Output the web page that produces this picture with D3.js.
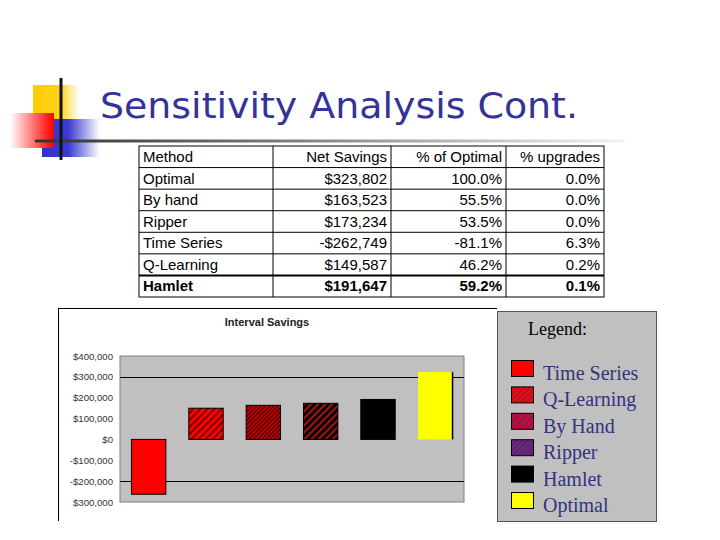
<!DOCTYPE html>
<html>
<head>
<meta charset="utf-8">
<script src="https://cdn.jsdelivr.net/npm/d3@7"></script>
<style>
  body { margin: 0; background: #fff; }
</style>
</head>
<body>
<div id="slide"></div>
<script>
// table data
let methods = ["Optimal", "By hand", "Ripper", "Time Series", "Q-Learning", "Hamlet"];
let netSavings = ["$323,802", "$163,523", "$173,234", "-$262,749", "$149,587", "$191,647"];
let pctOptimal = ["100.0%", "55.5%", "53.5%", "-81.1%", "46.2%", "59.2%"];
let pctUpgrades = ["0.0%", "0.0%", "0.0%", "6.3%", "0.2%", "0.1%"];
let headers = ["Method", "Net Savings", "% of Optimal", "% upgrades"];

// chart data
let categories = ["Time Series", "Q-Learning", "By Hand", "Ripper", "Hamlet", "Optimal"];
let values = [-262749, 149587, 163523, 173234, 191647, 323802];
let yTicks = [400000, 300000, 200000, 100000, 0, -100000, -200000, -300000];
let yTickLabels = ["$400,000", "$300,000", "$200,000", "$100,000", "$0", "-$100,000", "-$200,000", "$300,000"];
let gridValues = [300000, -200000];

let w = 720; let h = 540;
let svg = d3.select("#slide").append("svg").attr("width", w).attr("height", h);
let defs = svg.append("defs");

//gradients for the logo
function grad(id, stops) {
    let g = defs.append("linearGradient").attr("id", id).attr("x1", "0%").attr("x2", "100%").attr("y1", "0%").attr("y2", "0%");
    stops.forEach(s => g.append("stop").attr("offset", s[0]).attr("stop-color", s[1]));
}
grad("gYellow", [["0%", "#ffcc00"], ["60%", "#ffd21a"], ["100%", "#ffffff"]]);
grad("gRed", [["0%", "#ffffff"], ["85%", "#ff2020"], ["100%", "#ff0000"]]);
grad("gBlue", [["0%", "#3333cc"], ["45%", "#3a3ad0"], ["100%", "#ffffff"]]);
grad("gLine", [["0%", "#333333"], ["40%", "#777777"], ["100%", "#f4f4f4"]]);

//stripe patterns
function stripes(id, bg, fg, size, thick) {
    let p = defs.append("pattern").attr("id", id).attr("patternUnits", "userSpaceOnUse")
        .attr("width", size).attr("height", size).attr("patternTransform", "rotate(45)");
    p.append("rect").attr("width", size).attr("height", size).attr("fill", bg);
    p.append("rect").attr("width", thick).attr("height", size).attr("fill", fg);
}
stripes("pQ", "#ff0000", "#6a0000", 5, 1.8);
stripes("pH", "#d00000", "#3a0000", 3, 1.3);
stripes("pR", "#100000", "#c01818", 5, 1.6);
stripes("lQ", "#e0101a", "#b80a20", 4, 1.5);
stripes("lH", "#cc0a20", "#7a1a70", 5, 2);
stripes("lR", "#6a2a80", "#58206c", 4, 1.5);

let barFill = ["#ff0000", "url(#pQ)", "url(#pH)", "url(#pR)", "#000000", "#ffff00"];
let barStroke = ["#000", "#000", "#000", "#000", "#000", "none"];
let legendFill = ["#ff0000", "url(#lQ)", "url(#lH)", "url(#lR)", "#000000", "#ffff00"];

//logo
let logo = svg.append("g");
logo.append("rect").attr("x", 33).attr("y", 85).attr("width", 46).attr("height", 34).attr("fill", "url(#gYellow)");
logo.append("rect").attr("x", 42).attr("y", 119).attr("width", 58).attr("height", 38).attr("fill", "url(#gBlue)");
logo.append("rect").attr("x", 10).attr("y", 113).attr("width", 44).attr("height", 35).attr("fill", "url(#gRed)");
logo.append("rect").attr("x", 35).attr("y", 139.5).attr("width", 590).attr("height", 3).attr("fill", "url(#gLine)");
logo.append("rect").attr("x", 59.5).attr("y", 78).attr("width", 3).attr("height", 82).attr("fill", "#111");

svg.append("text")
    .attr("x", 100).attr("y", 118)
    .attr("font-family", "DejaVu Sans")
    .attr("font-size", 36)
    .attr("fill", "#333399")
    .attr("textLength", 478)
    .attr("lengthAdjust", "spacingAndGlyphs")
    .text("Sensitivity Analysis Cont.");

//table
let colEdges = [139, 273, 391, 506, 604];
let rowY = d3.scaleLinear().domain([0, 7]).range([146, 297]);
let table = svg.append("g");
let rows = [headers].concat(methods.map((m, i) => [m, netSavings[i], pctOptimal[i], pctUpgrades[i]]));

table.append("rect").attr("x", colEdges[0]).attr("y", rowY(0))
    .attr("width", colEdges[4] - colEdges[0]).attr("height", rowY(7) - rowY(0))
    .attr("fill", "#fff").attr("stroke", "#000").attr("stroke-width", 1);

table.selectAll(".rowline").data(d3.range(1, 7)).enter().append("line")
    .attr("x1", colEdges[0]).attr("x2", colEdges[4])
    .attr("y1", d => rowY(d)).attr("y2", d => rowY(d))
    .attr("stroke", "#000").attr("stroke-width", d => d == 6 ? 2 : 1);

table.selectAll(".colline").data(colEdges.slice(1, 4)).enter().append("line")
    .attr("x1", d => d).attr("x2", d => d)
    .attr("y1", rowY(0)).attr("y2", rowY(7))
    .attr("stroke", "#000").attr("stroke-width", 1);

rows.forEach((r, ri) => {
    r.forEach((cell, ci) => {
        table.append("text")
            .attr("x", ci == 0 ? colEdges[0] + 4 : colEdges[ci + 1] - 4)
            .attr("y", rowY(ri) + 16)
            .attr("text-anchor", ci == 0 ? "start" : "end")
            .attr("font-family", "Liberation Sans, Arial")
            .attr("font-size", 15)
            .attr("font-weight", ri == 6 ? "bold" : "normal")
            .attr("fill", "#000")
            .text(cell);
    });
});

//chart frame
svg.append("line").attr("x1", 58).attr("x2", 497).attr("y1", 308.5).attr("y2", 308.5).attr("stroke", "#000");
svg.append("line").attr("x1", 58.5).attr("x2", 58.5).attr("y1", 308).attr("y2", 521).attr("stroke", "#000");

svg.append("text")
    .attr("x", 267).attr("y", 326)
    .attr("text-anchor", "middle")
    .attr("font-family", "Liberation Sans, Arial")
    .attr("font-size", 11)
    .attr("font-weight", "bold")
    .attr("fill", "#222")
    .text("Interval Savings");

let x = d3.scaleBand().domain(categories).range([120, 464]).paddingInner(0.4).paddingOuter(0.2);
let y = d3.scaleLinear().domain([-300000, 400000]).range([502, 356]);

svg.append("rect").attr("x", 120).attr("y", 356).attr("width", 344).attr("height", 146)
    .attr("fill", "#c0c0c0").attr("stroke", "#808080").attr("stroke-width", 1);

svg.selectAll(".grid").data(gridValues).enter().append("line")
    .attr("x1", 120).attr("x2", 464)
    .attr("y1", d => Math.round(y(d)) + 0.5).attr("y2", d => Math.round(y(d)) + 0.5)
    .attr("stroke", "#000");

svg.selectAll(".bar").data(values).enter().append("rect")
    .attr("x", (d, i) => x(categories[i]))
    .attr("width", x.bandwidth())
    .attr("y", d => y(Math.max(0, d)))
    .attr("height", d => Math.abs(y(d) - y(0)))
    .attr("fill", (d, i) => barFill[i])
    .attr("stroke", (d, i) => barStroke[i]).attr("stroke-width", 1);

// the yellow bar only has a dark right edge
let last = categories.length - 1;
svg.append("line")
    .attr("x1", x(categories[last]) + x.bandwidth()).attr("x2", x(categories[last]) + x.bandwidth())
    .attr("y1", y(values[last])).attr("y2", y(0))
    .attr("stroke", "#000").attr("stroke-width", 1.5);

let yAxis = svg.append("g").attr("transform", "translate(120,0)")
    .call(d3.axisLeft(y).tickValues(yTicks).tickSize(0).tickPadding(7)
        .tickFormat((d, i) => yTickLabels[i]));
yAxis.select(".domain").remove();
yAxis.selectAll("text").attr("font-family", "Liberation Sans, Arial").attr("font-size", 9.6).attr("fill", "#333");

//legend
let lg = svg.append("g");
lg.append("rect").attr("x", 497.5).attr("y", 311.5).attr("width", 159).attr("height", 210)
    .attr("fill", "#c0c0c0").attr("stroke", "#555").attr("stroke-width", 1);
lg.append("text").attr("x", 528).attr("y", 335)
    .attr("font-family", "Liberation Serif, Times New Roman").attr("font-size", 18).attr("fill", "#000")
    .text("Legend:");

let ly = d3.scaleLinear().domain([0, 5]).range([360, 492]);
lg.selectAll(".sw").data(categories).enter().append("rect")
    .attr("x", 511.5).attr("y", (d, i) => ly(i) + 0.5)
    .attr("width", 22).attr("height", 16)
    .attr("fill", (d, i) => legendFill[i])
    .attr("stroke", "#000").attr("stroke-width", 1);
lg.selectAll(".lt").data(categories).enter().append("text")
    .attr("x", 543).attr("y", (d, i) => ly(i) + 20)
    .attr("font-family", "Liberation Serif, Times New Roman").attr("font-size", 20)
    .attr("fill", "#333380")
    .text(d => d);
</script>
</body>
</html>
